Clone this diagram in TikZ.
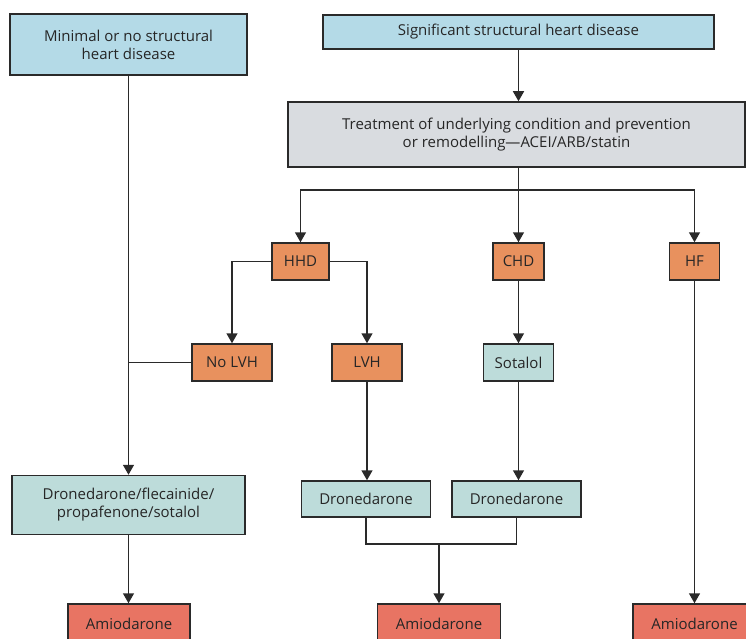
\documentclass[tikz,border=0pt]{standalone}
\usepackage{fontspec}
\setmainfont{Open Sans}
\usetikzlibrary{arrows.meta}
\definecolor{lblue}{HTML}{B4DAE7}
\definecolor{lgray}{HTML}{D9DCE0}
\definecolor{orng}{HTML}{E8915E}
\definecolor{teal}{HTML}{BDDCDA}
\definecolor{redb}{HTML}{E87463}
\definecolor{edge}{HTML}{2A2A2A}
\tikzset{
  box/.style={draw=edge, line width=1.5pt, inner sep=0pt, align=center, font=\fontsize{15}{18}\selectfont, text=black!85},
  conn/.style={draw=edge, line width=1.5pt},
  arr/.style={conn, -{Triangle[width=11pt,length=10pt]}},
}
\begin{document}
\begin{tikzpicture}[x=1pt,y=-1pt]
\useasboundingbox (0,0) rectangle (746,639);
\node[box, fill=lblue, minimum width=237pt, minimum height=61pt] (minimal) at (128.5,44.5) {Minimal or no structural\\heart disease};
\node[box, fill=lblue, minimum width=391pt, minimum height=34pt] (sig) at (518.5,32) {Significant structural heart disease};
\node[box, fill=lgray, minimum width=457pt, minimum height=65pt] (treat) at (516.5,134.5) {Treatment of underlying condition and prevention\\or remodelling---ACEI/ARB/statin};
\node[box, fill=orng, minimum width=57pt, minimum height=37pt] (hhd) at (300.5,261.5) {HHD};
\node[box, fill=orng, minimum width=51pt, minimum height=37pt] (chd) at (518.5,261.5) {CHD};
\node[box, fill=orng, minimum width=50pt, minimum height=37pt] (hf) at (694.5,261.5) {HF};
\node[box, fill=orng, minimum width=80pt, minimum height=37pt] (nolvh) at (232,362.5) {No LVH};
\node[box, fill=orng, minimum width=70pt, minimum height=37pt] (lvh) at (367,362.5) {LVH};
\node[box, fill=teal, minimum width=70pt, minimum height=37pt] (sotalol) at (518.5,362.5) {Sotalol};
\node[box, fill=teal, minimum width=233pt, minimum height=59pt] (dronflec) at (128.5,505) {Dronedarone/flecainide/\\propafenone/sotalol};
\node[box, fill=teal, minimum width=129pt, minimum height=36pt] (dron1) at (366,499) {Dronedarone};
\node[box, fill=teal, minimum width=129pt, minimum height=36pt] (dron2) at (516.5,499) {Dronedarone};
\node[box, fill=redb, minimum width=122pt, minimum height=40pt] (amio1) at (129,624) {Amiodarone};
\node[box, fill=redb, minimum width=123pt, minimum height=40pt] (amio2) at (439,624) {Amiodarone};
\node[box, fill=redb, minimum width=123pt, minimum height=40pt] (amio3) at (694.5,624) {Amiodarone};
\coordinate (split) at (518.5,190);
\coordinate (join) at (439,544);
\draw[arr] (sig.south) -- (sig.south |- treat.north);
\draw[conn] (split |- treat.south) -- (split);
\draw[arr] (split) -- (chd.north);
\draw[arr] (split) -| (hhd.north);
\draw[arr] (split) -| (hf.north);
\draw[arr] (hhd.west) -| (nolvh.north);
\draw[arr] (hhd.east) -| (lvh.north);
\draw[arr] (chd.south) -- (sotalol.north);
\draw[arr] (minimal.south) -- (dronflec.north);
\draw[conn] (nolvh.west) -- (minimal.south |- nolvh.west);
\draw[arr] (lvh.south) -- (lvh.south |- dron1.north);
\draw[arr] (sotalol.south) -- (sotalol.south |- dron2.north);
\draw[arr] (dronflec.south) -- (dronflec.south |- amio1.north);
\draw[conn] (dron1.south) -- (dron1.south |- join) -- (dron2.south |- join) -- (dron2.south);
\draw[arr] (join) -- (amio2.north);
\draw[arr] (hf.south) -- (amio3.north);
\end{tikzpicture}
\end{document}
